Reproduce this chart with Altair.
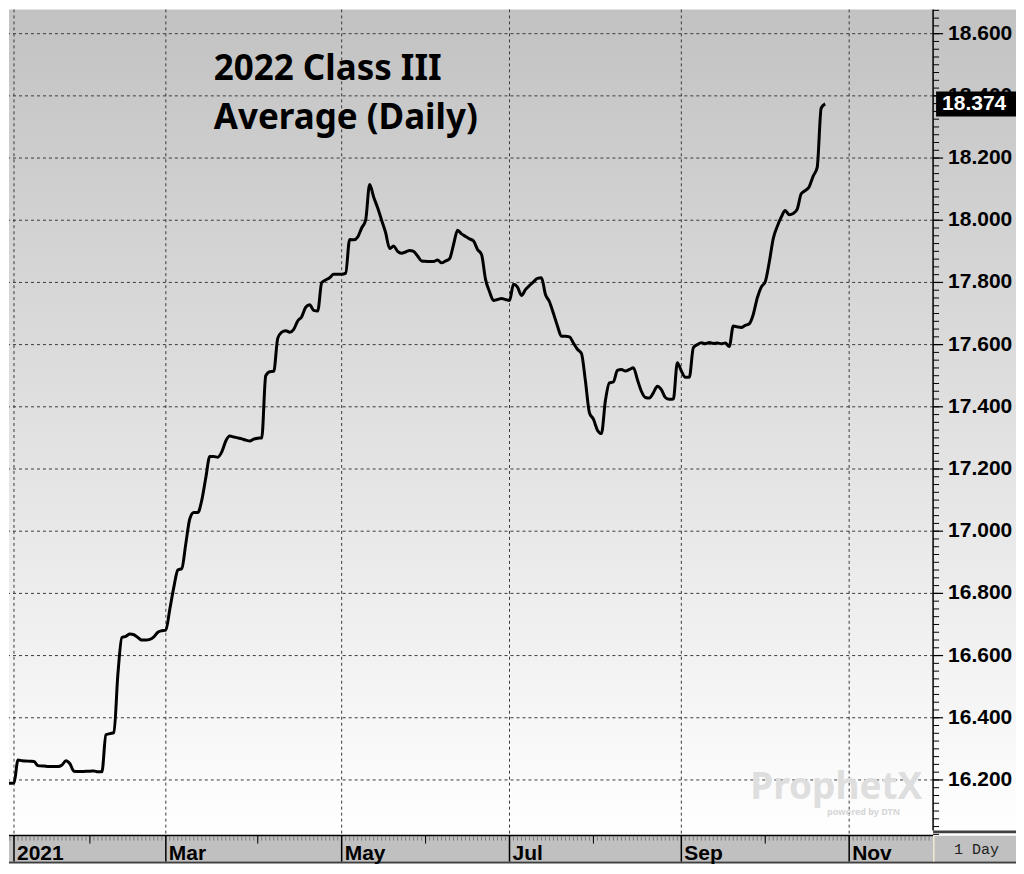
import altair as alt
import pandas as pd

# DATA ---------------------------------------------------------------
# x = trading-day number (0 = first trading day of Jan 2021)
day = list(range(-3, 204))
price = [
    16.189, 16.189, 16.189, 16.190, 16.264, 16.262, 16.261, 16.260, 16.259, 16.246,
    16.245, 16.244, 16.243, 16.243, 16.243, 16.248, 16.262, 16.252, 16.228, 16.227,
    16.227, 16.228, 16.228, 16.229, 16.226, 16.226, 16.345, 16.349, 16.352, 16.540,
    16.658, 16.662, 16.669, 16.667, 16.658, 16.650, 16.650, 16.652, 16.660, 16.675,
    16.680, 16.682, 16.750, 16.820, 16.875, 16.880, 16.960, 17.040, 17.060, 17.060,
    17.100, 17.172, 17.240, 17.240, 17.238, 17.255, 17.290, 17.306, 17.303, 17.300,
    17.297, 17.293, 17.290, 17.296, 17.299, 17.300, 17.500, 17.513, 17.514, 17.620,
    17.640, 17.645, 17.640, 17.649, 17.676, 17.690, 17.720, 17.728, 17.710, 17.708,
    17.799, 17.808, 17.815, 17.826, 17.826, 17.826, 17.830, 17.938, 17.937, 17.946,
    17.975, 18.000, 18.115, 18.075, 18.040, 18.000, 17.960, 17.909, 17.917, 17.900,
    17.894, 17.898, 17.903, 17.900, 17.885, 17.869, 17.868, 17.867, 17.867, 17.872,
    17.863, 17.869, 17.876, 17.922, 17.968, 17.956, 17.948, 17.940, 17.933, 17.906,
    17.890, 17.810, 17.770, 17.742, 17.745, 17.748, 17.745, 17.742, 17.794, 17.785,
    17.758, 17.777, 17.790, 17.802, 17.813, 17.815, 17.761, 17.738, 17.700, 17.660,
    17.627, 17.627, 17.625, 17.605, 17.585, 17.572, 17.483, 17.381, 17.360, 17.325,
    17.314, 17.420, 17.477, 17.480, 17.517, 17.520, 17.515, 17.520, 17.526, 17.488,
    17.450, 17.430, 17.428, 17.445, 17.466, 17.455, 17.430, 17.424, 17.425, 17.542,
    17.515, 17.495, 17.495, 17.590, 17.600, 17.606, 17.603, 17.607, 17.604, 17.605,
    17.603, 17.605, 17.594, 17.660, 17.657, 17.655, 17.662, 17.667, 17.697, 17.750,
    17.785, 17.802, 17.865, 17.941, 17.980, 18.010, 18.031, 18.018, 18.022, 18.036,
    18.085, 18.095, 18.108, 18.142, 18.170, 18.361, 18.374,
]

month_day = [0, 38, 82, 124, 167, 209]
month_label = ['2021', 'Mar', 'May', 'Jul', 'Sep', 'Nov']
mid_month_day = [19, 61, 103, 145, 188]
tick_day = list(range(-1, 230))

y_major = [16.2, 16.4, 16.6, 16.8, 17.0, 17.2, 17.4, 17.6, 17.8, 18.0, 18.2, 18.4, 18.6]
y_minor = [round(16.025 + 0.025 * k, 3) for k in range(107)]

title_lines = ['2022 Class III', 'Average (Daily)']

# FRAMES -------------------------------------------------------------
df = pd.DataFrame({'d': day, 'p': price})
df_last = df.tail(1)
df_month = pd.DataFrame({'d': month_day, 'm': month_label})
df_mid = pd.DataFrame({'d': mid_month_day})
df_ticks = pd.DataFrame({'d': tick_day})
df_major = pd.DataFrame({'v': y_major})
df_minor = pd.DataFrame({'v': y_minor})
one = pd.DataFrame({'k': [0]})

W, H = 925, 827
RIGHT = 83
BAND = 26
xs = alt.Scale(domain=[-1.25, 230], nice=False, zero=False)
ys = alt.Scale(domain=[16.021, 18.678], nice=False, zero=False)
X = alt.X('d:Q', scale=xs, axis=None)
Y = alt.Y('v:Q', scale=ys, axis=None)

# BACKGROUND PANELS --------------------------------------------------
bg = alt.Chart(one).mark_rect(
    fill=alt.LinearGradient(
        gradient='linear',
        stops=[alt.GradientStop(color='#c2c2c2', offset=0),
               alt.GradientStop(color='#ffffff', offset=1)],
        x1=0, x2=0, y1=0, y2=1)
).encode(x=alt.value(0), x2=alt.value(W + RIGHT), y=alt.value(0), y2=alt.value(H))

band = alt.Chart(one).mark_rect(color='#c0c0c0').encode(
    x=alt.value(0), x2=alt.value(W + RIGHT), y=alt.value(H), y2=alt.value(H + BAND))
band_bottom = alt.Chart(one).mark_rect(color='#404040').encode(
    x=alt.value(0), x2=alt.value(W + RIGHT), y=alt.value(H + BAND), y2=alt.value(H + BAND + 2))
box_top = alt.Chart(one).mark_rect(color='#404040').encode(
    x=alt.value(W), x2=alt.value(W + RIGHT), y=alt.value(H - 5), y2=alt.value(H - 2))
box_white = alt.Chart(one).mark_rect(color='#ffffff').encode(
    x=alt.value(W), x2=alt.value(W + RIGHT), y=alt.value(H - 2), y2=alt.value(H))
box_left = alt.Chart(one).mark_rect(color='#f3ead2').encode(
    x=alt.value(W), x2=alt.value(W + 1.5), y=alt.value(H - 1), y2=alt.value(H + BAND))
box_text = alt.Chart(one).mark_text(
    text='1 Day', font='Liberation Mono', fontSize=15, color='#202020',
    align='left', baseline='alphabetic'
).encode(x=alt.value(W + 21), y=alt.value(H + 18))

# GRID ---------------------------------------------------------------
grid_y = alt.Chart(df_major).mark_rule(
    color='#3a3a3a', strokeWidth=1, strokeDash=[3, 3]).encode(y=Y)
grid_x = alt.Chart(df_month).mark_rule(
    color='#3a3a3a', strokeWidth=1, strokeDash=[3, 3]).encode(x=X)

# BOTTOM AXIS --------------------------------------------------------
day_ticks = alt.Chart(df_ticks).mark_rule(color='#7c7c7c', strokeWidth=1).encode(
    x=X, y=alt.value(H + 1), y2=alt.value(H + 5))
mid_ticks = alt.Chart(df_mid).mark_rule(color='black', strokeWidth=1).encode(
    x=X, y=alt.value(H), y2=alt.value(H + 8))
month_lines = alt.Chart(df_month).mark_rule(color='black', strokeWidth=1.5).encode(
    x=X, y=alt.value(H), y2=alt.value(H + BAND))
month_text = alt.Chart(df_month).mark_text(
    align='left', baseline='alphabetic', dx=3, font='Liberation Sans',
    fontSize=21, fontWeight='bold', color='black'
).encode(x=X, y=alt.value(H + 24), text='m:N')
x_line = alt.Chart(one).mark_rule(color='black', strokeWidth=1.5).encode(
    x=alt.value(0), x2=alt.value(W), y=alt.value(H))

# RIGHT AXIS ---------------------------------------------------------
y_line = alt.Chart(one).mark_rule(color='black', strokeWidth=1.5).encode(
    x=alt.value(W), y=alt.value(0), y2=alt.value(H - 5))
minor_ticks = alt.Chart(df_minor).mark_rule(color='black', strokeWidth=1).encode(
    y=Y, x=alt.value(W), x2=alt.value(W + 6))
major_ticks = alt.Chart(df_major).mark_rule(color='black', strokeWidth=1.2).encode(
    y=Y, x=alt.value(W), x2=alt.value(W + 10))
y_text = alt.Chart(df_major).mark_text(
    align='left', baseline='middle', font='Liberation Sans', fontSize=21,
    fontWeight='bold', color='black'
).encode(y=Y, x=alt.value(W + 15), text=alt.Text('v:Q', format='.3f'))

# WATERMARK + TITLE --------------------------------------------------
mark_logo = alt.Chart(one).mark_text(
    text='ProphetX', font='Noto Sans', fontSize=37, fontWeight='bold',
    color='#dedede', align='left', baseline='alphabetic'
).encode(x=alt.value(742), y=alt.value(790))
mark_sub = alt.Chart(one).mark_text(
    text='powered by DTN', font='Noto Sans', fontSize=9, fontWeight='bold',
    color='#d6d6d6', align='right', baseline='alphabetic'
).encode(x=alt.value(892), y=alt.value(806))

title_1 = alt.Chart(one).mark_text(
    text=title_lines[0], font='Noto Sans', fontSize=35, fontWeight='bold',
    color='black', align='left', baseline='alphabetic'
).encode(x=alt.value(205), y=alt.value(71))
title_2 = alt.Chart(one).mark_text(
    text=title_lines[1], font='Noto Sans', fontSize=35, fontWeight='bold',
    color='black', align='left', baseline='alphabetic'
).encode(x=alt.value(205), y=alt.value(120))

# DATA LINE ----------------------------------------------------------
line = alt.Chart(df).mark_line(
    color='black', strokeWidth=3, interpolate='monotone', clip=True
).encode(x=X, y=alt.Y('p:Q', scale=ys, axis=None))

# last-price tag: box +/- 0.04 around the last value
last_box = alt.Chart(df_last).transform_calculate(
    lo='datum.p - 0.04', hi='datum.p + 0.04'
).mark_rect(color='black').encode(
    y=alt.Y('lo:Q', scale=ys, axis=None), y2='hi:Q',
    x=alt.value(W + 3), x2=alt.value(W + RIGHT))
last_text = alt.Chart(df_last).mark_text(
    align='left', baseline='middle', font='Liberation Sans', fontSize=21,
    fontWeight='bold', color='white'
).encode(y=alt.Y('p:Q', scale=ys, axis=None), x=alt.value(W + 9),
         text=alt.Text('p:Q', format='.3f'))

chart = alt.layer(
    bg, band, band_bottom, box_top, box_white, box_left, box_text,
    grid_y, grid_x,
    day_ticks, mid_ticks, month_lines, month_text, x_line,
    y_line, minor_ticks, major_ticks, y_text,
    mark_logo, mark_sub, title_1, title_2,
    line, last_box, last_text
).properties(
    width=W, height=H, padding=0, background='white'
).configure_view(stroke=None)

chart.save("out.html", embed_options={"renderer": "svg", "actions": False})
